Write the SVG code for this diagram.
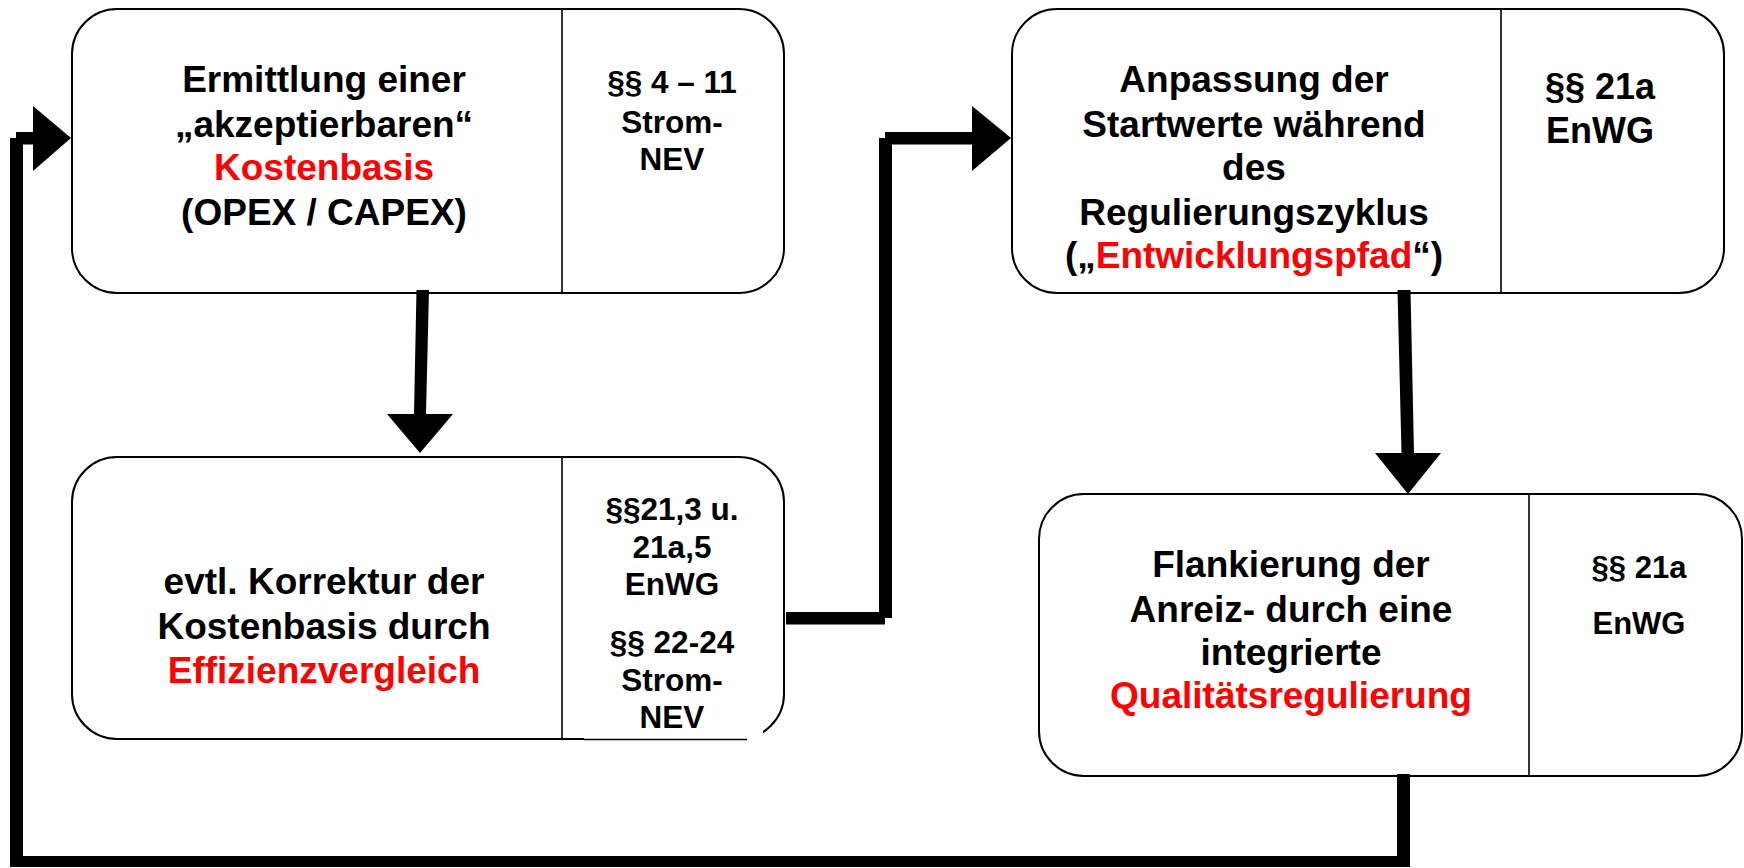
<svg xmlns="http://www.w3.org/2000/svg" width="1744" height="868" viewBox="0 0 1744 868">
<style>
.box{fill:#fff;stroke:#000;stroke-width:2}
.div{stroke:#000;stroke-width:1.6}
.t{font-family:"Liberation Sans",Arial,sans-serif;font-weight:bold;fill:#000;text-anchor:middle}
.big{font-size:37px}
.sm{font-size:31.5px}
.red{fill:#ff0000}
.con{fill:#000}
</style>
<rect width="1744" height="868" fill="#fff"/>
<g id="node1">
<rect class="box" x="72" y="9" width="712" height="284" rx="45" ry="45"/>
<line class="div" x1="562" y1="9" x2="562" y2="293"/>
<text class="t big"><tspan x="324" y="92">Ermittlung einer</tspan><tspan x="324" y="137">„akzeptierbaren“</tspan><tspan x="324" y="180" class="red">Kostenbasis</tspan><tspan x="324" y="225">(OPEX / CAPEX)</tspan></text>
<text class="t sm"><tspan x="672" y="93">§§ 4 – 11</tspan><tspan x="672" y="133">Strom-</tspan><tspan x="672" y="170">NEV</tspan></text>
</g>
<g id="node2">
<rect class="box" x="72" y="457" width="712" height="282" rx="45" ry="45"/>
<rect x="584" y="731" width="179" height="11" fill="#fff"/>
<line x1="584" y1="739.5" x2="747" y2="739.5" stroke="#000" stroke-width="1.5"/>
<line class="div" x1="562" y1="457" x2="562" y2="739"/>
<text class="t big"><tspan x="324" y="594">evtl. Korrektur der</tspan><tspan x="324" y="639">Kostenbasis durch</tspan><tspan x="324" y="683" class="red">Effizienzvergleich</tspan></text>
<text class="t sm"><tspan x="672" y="520">§§21,3 u.</tspan><tspan x="672" y="558">21a,5</tspan><tspan x="672" y="595">EnWG</tspan><tspan x="672" y="653">§§ 22-24</tspan><tspan x="672" y="691">Strom-</tspan><tspan x="672" y="728">NEV</tspan></text>
</g>
<g id="node3">
<rect class="box" x="1012" y="9" width="712" height="284" rx="45" ry="45"/>
<line class="div" x1="1501" y1="9" x2="1501" y2="293"/>
<text class="t big"><tspan x="1254" y="92">Anpassung der</tspan><tspan x="1254" y="137">Startwerte während</tspan><tspan x="1254" y="180">des</tspan><tspan x="1254" y="225">Regulierungszyklus</tspan><tspan x="1254" y="268">(„<tspan class="red">Entwicklungspfad</tspan>“)</tspan></text>
<text class="t" style="font-size:36px"><tspan x="1600" y="99">§§ 21a</tspan><tspan x="1600" y="143">EnWG</tspan></text>
</g>
<g id="node4">
<rect class="box" x="1039" y="494" width="703" height="282" rx="45" ry="45"/>
<line class="div" x1="1529" y1="494" x2="1529" y2="776"/>
<text class="t big"><tspan x="1291" y="577">Flankierung der</tspan><tspan x="1291" y="622">Anreiz- durch eine</tspan><tspan x="1291" y="665">integrierte</tspan><tspan x="1291" y="708" class="red">Qualitätsregulierung</tspan></text>
<text class="t" style="font-size:31px"><tspan x="1639" y="578">§§ 21a</tspan><tspan x="1639" y="634">EnWG</tspan></text>
</g>
<g id="connectors">
<!-- node1 -> node2 -->
<polygon class="con" points="416.5,290 429,290 426,414 453,414 420,453 387,414 414,414"/>
<!-- node2 -> node3 -->
<rect class="con" x="786" y="612" width="99" height="12.5"/>
<rect class="con" x="879" y="138" width="13" height="480"/>
<rect class="con" x="885" y="132" width="90" height="12.5"/>
<polygon class="con" points="972,106 1011,138 972,171"/>
<!-- node3 -> node4 -->
<polygon class="con" points="1397.5,290 1410.5,290 1414,453 1441,453 1408,494 1375,453 1401.5,453"/>
<!-- node4 -> node1 (feedback loop) -->
<rect class="con" x="1397" y="774" width="13" height="93"/>
<rect class="con" x="10" y="856" width="1400" height="11"/>
<rect class="con" x="10" y="138" width="13" height="729"/>
<rect class="con" x="16" y="132" width="20" height="12.5"/>
<polygon class="con" points="33,106 71,138 33,171"/>
</g>
</svg>
